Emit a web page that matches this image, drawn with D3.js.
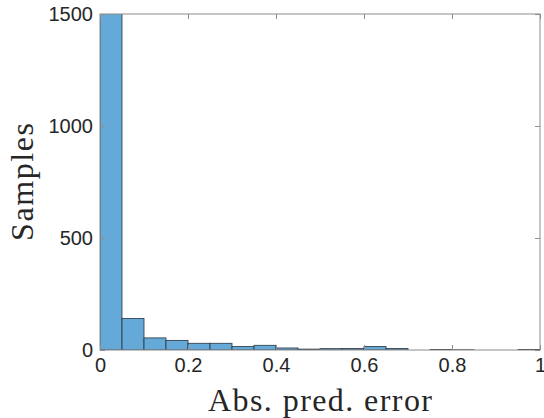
<!DOCTYPE html>
<html>
  <head>
    <script src="https://d3js.org/d3.v7.min.js"></script>
    <style>
      body { margin: 0; background: #fff; }
    </style>
  </head>
  <body>
    <svg id="chart"></svg>
    <script>
      // histogram bins (left and right edges) and counts
      var binLeft = [0, 0.05, 0.1, 0.15, 0.2, 0.25, 0.3, 0.35, 0.4, 0.45, 0.5, 0.55, 0.6, 0.65, 0.7, 0.75, 0.8, 0.85, 0.9, 0.95];
      var binRight = [0.05, 0.1, 0.15, 0.2, 0.25, 0.3, 0.35, 0.4, 0.45, 0.5, 0.55, 0.6, 0.65, 0.7, 0.75, 0.8, 0.85, 0.9, 0.95, 1];
      var counts = [1630, 141, 54, 43, 30, 30, 16, 21, 9, 4, 6, 7, 16, 7, 0, 2, 1, 0, 0, 2];
      var xTicks = [0, 0.2, 0.4, 0.6, 0.8, 1];
      var yTicks = [0, 500, 1000, 1500];

      var width = 544, height = 418;
      var plotLeft = 100, plotRight = 540, plotTop = 14, plotBottom = 350;

      var svg = d3.select("#chart").attr("width", width).attr("height", height);

      var x = d3.scaleLinear().domain([0, 1]).range([plotLeft, plotRight]);
      var y = d3.scaleLinear().domain([0, 1500]).range([plotBottom, plotTop]);

      svg.append("clipPath").attr("id", "plotclip")
        .append("rect")
        .attr("x", plotLeft).attr("y", plotTop)
        .attr("width", plotRight - plotLeft).attr("height", plotBottom - plotTop);

      // bars
      var data = counts.map(function (c, i) {
        return { x0: binLeft[i], x1: binRight[i], n: c };
      });
      svg.append("g")
        .attr("clip-path", "url(#plotclip)")
        .selectAll("rect")
        .data(data)
        .enter()
        .append("rect")
        .attr("x", function (d) { return x(d.x0); })
        .attr("width", function (d) { return x(d.x1) - x(d.x0); })
        .attr("y", function (d) { return y(d.n); })
        .attr("height", function (d) { return plotBottom - y(d.n); })
        .attr("fill", "#64a9d8")
        .attr("stroke", "#2a3440")
        .attr("stroke-width", 0.8);

      var axisColor = "#8c8c8c";
      var tickFont = "Liberation Sans, Arial, sans-serif";

      function styleAxis(g, labels) {
        g.select(".domain").remove();
        g.attr("font-size", 20).attr("font-family", tickFont);
        g.selectAll(".tick line").attr("stroke", axisColor);
        g.selectAll(".tick text").attr("fill", "#262626");
        if (!labels) g.selectAll(".tick text").remove();
      }

      // x axes (bottom with labels, top without)
      svg.append("g")
        .attr("transform", "translate(0," + plotBottom + ")")
        .call(d3.axisBottom(x).tickValues(xTicks).tickFormat(d3.format("")).tickSizeInner(-5).tickSizeOuter(0).tickPadding(8))
        .call(styleAxis, true);
      svg.append("g")
        .attr("transform", "translate(0," + plotTop + ")")
        .call(d3.axisTop(x).tickValues(xTicks).tickSizeInner(-5).tickSizeOuter(0))
        .call(styleAxis, false);

      // y axes
      svg.append("g")
        .attr("transform", "translate(" + plotLeft + ",0)")
        .call(d3.axisLeft(y).tickValues(yTicks).tickFormat(d3.format("d")).tickSizeInner(-5).tickSizeOuter(0).tickPadding(7))
        .call(styleAxis, true);
      svg.append("g")
        .attr("transform", "translate(" + plotRight + ",0)")
        .call(d3.axisRight(y).tickValues(yTicks).tickSizeInner(-5).tickSizeOuter(0))
        .call(styleAxis, false);

      // box
      svg.append("rect")
        .attr("x", plotLeft).attr("y", plotTop)
        .attr("width", plotRight - plotLeft).attr("height", plotBottom - plotTop)
        .attr("fill", "none")
        .attr("stroke", axisColor)
        .attr("stroke-width", 1);

      // axis labels
      svg.append("text")
        .attr("x", (plotLeft + plotRight) / 2)
        .attr("y", 411)
        .attr("text-anchor", "middle")
        .attr("font-family", "Liberation Serif, Times New Roman, serif")
        .attr("font-size", 32)
        .attr("textLength", 224)
        .attr("lengthAdjust", "spacing")
        .attr("fill", "#262626")
        .text("Abs. pred. error");

      svg.append("text")
        .attr("transform", "translate(33," + (plotTop + plotBottom) / 2 + ") rotate(-90)")
        .attr("text-anchor", "middle")
        .attr("font-family", "Liberation Serif, Times New Roman, serif")
        .attr("font-size", 32)
        .attr("textLength", 118)
        .attr("lengthAdjust", "spacing")
        .attr("fill", "#262626")
        .text("Samples");
    </script>
  </body>
</html>
